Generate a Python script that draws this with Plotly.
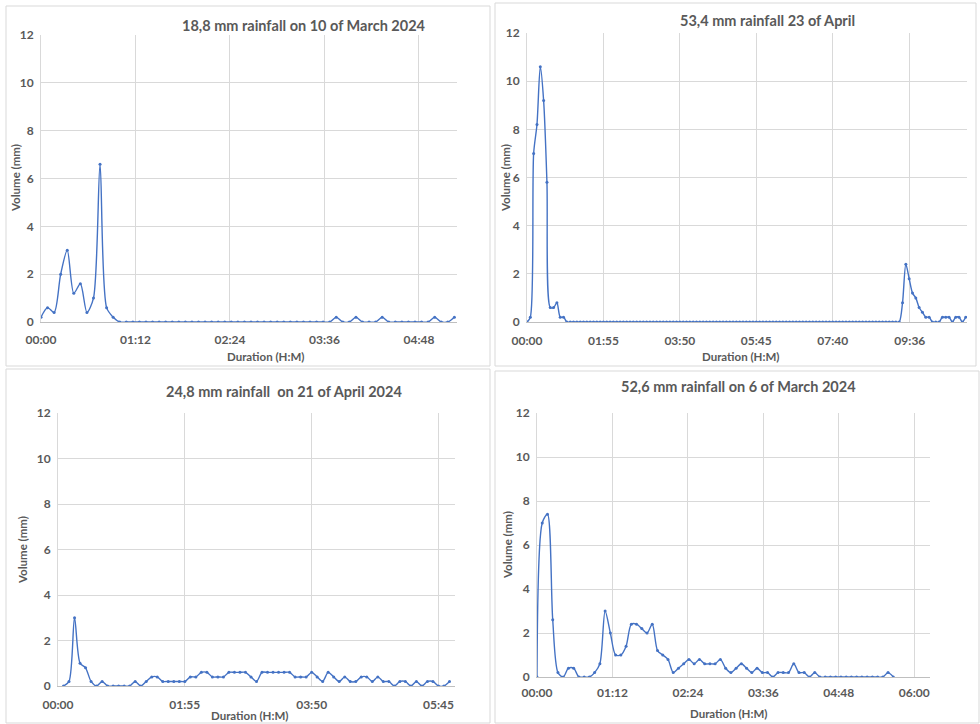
import plotly.graph_objects as go

W, H = 980, 724
STEP = 5  # minutes between readings

# ---------------- data ----------------
P1_TITLE = "18,8 mm rainfall on 10 of March 2024"
P1_START = 0
P1_VAL = [0.2, 0.6, 0.4, 2.0, 3.0, 1.2, 1.6, 0.4, 1.0, 6.6, 0.6, 0.2,
          0, 0, 0, 0, 0, 0, 0, 0, 0, 0, 0, 0, 0, 0, 0, 0, 0, 0, 0, 0,
          0, 0, 0, 0, 0, 0, 0, 0, 0, 0, 0, 0, 0,
          0.2, 0, 0, 0.2, 0, 0, 0, 0.2, 0, 0, 0, 0, 0, 0, 0, 0.2, 0, 0, 0.2]
P1_TICKS = ["00:00", "01:12", "02:24", "03:36", "04:48"]

P2_TITLE = "53,4 mm rainfall 23 of April"
P2_START = 0
P2_VAL = ([0, 0.2, 7.0, 8.2, 10.6, 9.2, 5.8, 0.6, 0.6, 0.8, 0.2, 0.2] +
          [0, 0, 0, 0, 0, 0, 0, 0, 0, 0, 0, 0, 0, 0, 0, 0, 0, 0, 0, 0,
           0, 0, 0, 0, 0, 0, 0, 0, 0, 0, 0, 0, 0, 0, 0, 0, 0, 0, 0, 0,
           0, 0, 0, 0, 0, 0, 0, 0, 0, 0, 0, 0, 0, 0, 0, 0, 0, 0, 0, 0,
           0, 0, 0, 0, 0, 0, 0, 0, 0, 0, 0, 0, 0, 0, 0, 0, 0, 0, 0, 0,
           0, 0, 0, 0, 0, 0, 0, 0, 0, 0, 0, 0, 0, 0, 0, 0, 0, 0, 0, 0,
           0] +
          [0.8, 2.4, 1.8, 1.2, 1.0, 0.6, 0.4, 0.2, 0.2, 0, 0, 0,
           0.2, 0.2, 0.2, 0, 0.2, 0.2, 0, 0.2])
P2_TICKS = ["00:00", "01:55", "03:50", "05:45", "07:40", "09:36"]

P3_TITLE = "24,8 mm rainfall  on 21 of April 2024"
P3_START = 5
P3_VAL = [0, 0.2, 3.0, 1.0, 0.8, 0.2, 0, 0.2, 0, 0, 0, 0, 0, 0.2, 0, 0.2,
          0.4, 0.4, 0.2, 0.2, 0.2, 0.2, 0.2, 0.4, 0.4, 0.6, 0.6, 0.4, 0.4,
          0.4, 0.6, 0.6, 0.6, 0.6, 0.4, 0.2, 0.6, 0.6, 0.6, 0.6, 0.6, 0.6,
          0.4, 0.4, 0.4, 0.6, 0.4, 0.2, 0.6, 0.4, 0.2, 0.4, 0.2, 0.2, 0.4,
          0.4, 0.2, 0.4, 0.2, 0.2, 0, 0.2, 0.2, 0, 0.2, 0, 0.2, 0.2, 0, 0, 0.2]
P3_TICKS = ["00:00", "01:55", "03:50", "05:45"]

P4_TITLE = "52,6 mm rainfall on 6 of March 2024"
P4_START = 0
P4_VAL = [0, 7.0, 7.4, 2.6, 0.2, 0, 0.4, 0.4, 0, 0, 0, 0.2, 0.6, 3.0, 2.0,
          1.0, 1.0, 1.4, 2.4, 2.4, 2.2, 2.0, 2.4, 1.2, 1.0, 0.8, 0.2, 0.4,
          0.6, 0.8, 0.6, 0.8, 0.6, 0.6, 0.6, 0.8, 0.4, 0.2, 0.4, 0.6, 0.4,
          0.2, 0.4, 0.2, 0.2, 0, 0.2, 0.2, 0.2, 0.6, 0.2, 0.2, 0, 0.2, 0,
          0, 0, 0, 0, 0, 0, 0, 0, 0, 0, 0, 0, 0.2, 0]
P4_TICKS = ["00:00", "01:12", "02:24", "03:36", "04:48", "06:00"]

Y_TICKS = [0, 2, 4, 6, 8, 10, 12]
X_TITLE = "Duration (H:M)"
Y_TITLE = "Volume (mm)"

# ---------------- styling / layout ----------------
FONT = "Lato, 'Open Sans', sans-serif"
TXT = "#595959"
GRID = "#D9D9D9"
LINE = "#4472C4"
CLEAR = "rgba(0,0,0,0)"


def hm(s):
    h, m = s.split(":")
    return int(h) * 60 + int(m)


def px_x(x):
    return x / W


def px_y(y):
    return 1 - y / H


panels = [
    dict(title=P1_TITLE, start=P1_START, vals=P1_VAL, ticks=P1_TICKS, xmax=317,
         area=(41, 457, 35, 322), box=(6, 490, 6, 366), xgap=7,
         tpos=(304, 26), xt=(265, 356), yt=(15, 178)),
    dict(title=P2_TITLE, start=P2_START, vals=P2_VAL, ticks=P2_TICKS, xmax=662,
         area=(527, 967, 33, 322), box=(495, 976, 3, 366), xgap=8,
         tpos=(767, 20), xt=(740, 356), yt=(505, 178)),
    dict(title=P3_TITLE, start=P3_START, vals=P3_VAL, ticks=P3_TICKS, xmax=360,
         area=(58, 455, 413, 686), box=(6, 490, 369, 723), xgap=8,
         tpos=(284, 391), xt=(249, 715), yt=(22, 550)),
    dict(title=P4_TITLE, start=P4_START, vals=P4_VAL, ticks=P4_TICKS, xmax=375,
         area=(537, 930, 413, 677), box=(495, 979, 371, 723), xgap=5,
         tpos=(738, 386), xt=(728, 713), yt=(507, 545)),
]

fig = go.Figure()
layout = dict(
    width=W, height=H, margin=dict(l=0, r=0, t=0, b=0, autoexpand=False),
    paper_bgcolor="white", plot_bgcolor="white", showlegend=False,
    font=dict(family=FONT, color=TXT),
)
annotations = []
shapes = []

for k, p in enumerate(panels, start=1):
    sfx = "" if k == 1 else str(k)
    xs = [p["start"] + STEP * i for i in range(len(p["vals"]))]
    fig.add_trace(go.Scatter(
        x=xs, y=p["vals"], mode="lines+markers",
        line=dict(color=LINE, width=1.4, shape="spline", smoothing=0.8),
        marker=dict(color=LINE, size=3),
        xaxis="x" + sfx, yaxis="y" + sfx, hoverinfo="x+y",
    ))
    x0, x1, y0, y1 = p["area"]
    layout["xaxis" + sfx] = dict(
        domain=[px_x(x0), px_x(x1)], anchor="y" + sfx, automargin=False,
        range=[0, p["xmax"]], tickvals=[hm(t) for t in p["ticks"]],
        ticktext=p["ticks"], showgrid=True, gridcolor=GRID, gridwidth=1,
        showline=True, linecolor="#BFBFBF", linewidth=1, zeroline=False,
        ticks="outside", ticklen=p["xgap"], tickcolor=CLEAR,
        tickfont=dict(family=FONT, size=12, color=TXT, weight="bold"),
        fixedrange=True,
    )
    layout["yaxis" + sfx] = dict(
        domain=[px_y(y1), px_y(y0)], anchor="x" + sfx, automargin=False,
        range=[0, 12], tickvals=Y_TICKS, showgrid=True, gridcolor=GRID,
        gridwidth=1, showline=True, linecolor=GRID, linewidth=1,
        zeroline=False, ticks="outside", ticklen=4, tickcolor=CLEAR,
        tickfont=dict(family=FONT, size=12, color=TXT, weight="bold"),
        fixedrange=True,
    )
    bx0, bx1, by0, by1 = p["box"]
    shapes.append(dict(type="rect", xref="paper", yref="paper",
                       x0=px_x(bx0), x1=px_x(bx1), y0=px_y(by1), y1=px_y(by0),
                       line=dict(color=GRID, width=1), layer="below"))
    annotations.append(dict(text=f"<b>{p['title']}</b>", xref="paper", yref="paper",
                            x=px_x(p["tpos"][0]), y=px_y(p["tpos"][1]),
                            xanchor="center", yanchor="middle", showarrow=False,
                            font=dict(family=FONT, size=14.5, color=TXT)))
    annotations.append(dict(text=f"<b>{X_TITLE}</b>", xref="paper", yref="paper",
                            x=px_x(p["xt"][0]), y=px_y(p["xt"][1]),
                            xanchor="center", yanchor="middle", showarrow=False,
                            font=dict(family=FONT, size=11.5, color=TXT)))
    annotations.append(dict(text=f"<b>{Y_TITLE}</b>", xref="paper", yref="paper",
                            x=px_x(p["yt"][0]), y=px_y(p["yt"][1]),
                            xanchor="center", yanchor="middle", showarrow=False,
                            textangle=-90,
                            font=dict(family=FONT, size=11.5, color=TXT)))

layout["annotations"] = annotations
layout["shapes"] = shapes
fig.update_layout(**layout)
fig.write_html(
    "out.html",
    config={"displayModeBar": False},
    post_script="document.body.style.margin='0';document.body.style.padding='0';"
                "document.body.style.overflow='hidden';",
)
